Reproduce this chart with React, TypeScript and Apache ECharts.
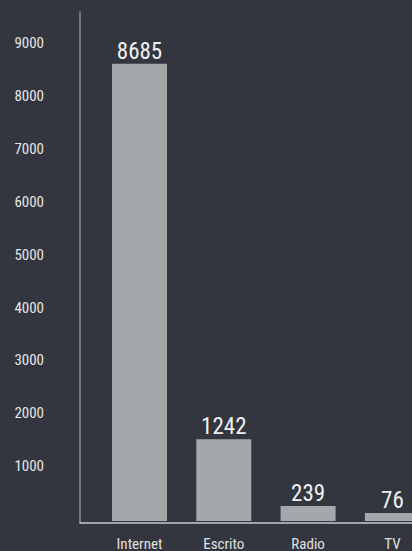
import React, { useEffect, useRef } from "react";
import * as echarts from "echarts";

const categories = ["Internet", "Escrito", "Radio", "TV"];
// bar heights
const barValues = [8685, 1552, 284, 151];
// value labels printed above the bars
const valueLabels = ["8685", "1242", "239", "76"];
const yTicks = [1000, 2000, 3000, 4000, 5000, 6000, 7000, 8000, 9000];
const yMax = 9669;

const FONT = "'Roboto Condensed', 'Liberation Sans Narrow', 'DejaVu Sans Condensed', Roboto, sans-serif";

export default function App() {
  const ref = useRef<HTMLDivElement>(null);
  useEffect(() => {
    if (!ref.current) return;
    const chart = echarts.init(ref.current, null, { renderer: "svg" });
    chart.setOption({
      animation: false,
      backgroundColor: "#33363f",
      grid: [
        { left: 80, right: 0, top: 12, bottom: 28 },
        { left: 139.5, right: 19.6, top: 12, bottom: 28 },
        { left: 80, right: 0, top: 8, bottom: 32 },
      ],
      xAxis: [
        {
          type: "value",
          gridIndex: 0,
          min: 0,
          max: 1,
          axisLine: { show: true, onZero: false, lineStyle: { color: "#c9cacc", width: 1.5 } },
          axisTick: { show: false },
          axisLabel: { show: false },
          splitLine: { show: false },
        },
        {
          type: "category",
          gridIndex: 1,
          data: categories,
          boundaryGap: false,
          axisLine: { show: false },
          axisTick: { show: false },
          axisLabel: {
            color: "#e0e0e0",
            fontSize: 15,
            fontFamily: FONT,
            margin: 15,
          },
        },
        {
          type: "value",
          gridIndex: 2,
          min: 0,
          max: 1,
          show: false,
          splitLine: { show: false },
        },
      ],
      yAxis: [
        {
          type: "value",
          gridIndex: 0,
          min: 0,
          max: yMax,
          axisLine: { show: true, lineStyle: { color: "#8f9196", width: 1.5 } },
          axisTick: { show: false },
          axisLabel: { show: false },
          splitLine: { show: false },
        },
        {
          type: "value",
          gridIndex: 1,
          min: 0,
          max: yMax,
          show: false,
          splitLine: { show: false },
        },
        {
          type: "value",
          gridIndex: 2,
          min: 0,
          max: yMax,
          interval: 1000,
          axisLine: { show: false },
          axisTick: { show: false },
          splitLine: { show: false },
          axisLabel: {
            color: "#e6e6e6",
            fontSize: 15,
            fontFamily: FONT,
            margin: 36,
            formatter: (v: number) => (yTicks.indexOf(v) >= 0 ? String(v) : ""),
          },
        },
      ],
      series: [
        {
          type: "bar",
          xAxisIndex: 1,
          yAxisIndex: 1,
          data: barValues,
          barWidth: 55,
          clip: false,
          itemStyle: { color: "#a5a8ab" },
          label: {
            show: true,
            position: "top",
            distance: 1,
            color: "#f0f0f0",
            fontSize: 23,
            fontFamily: FONT,
            formatter: (p: any) => valueLabels[p.dataIndex],
          },
        },
      ],
    });
    return () => chart.dispose();
  }, []);
  return (
    <div
      ref={ref}
      style={{ position: "absolute", left: 0, top: 0, width: 412, height: 551 }}
    />
  );
}
